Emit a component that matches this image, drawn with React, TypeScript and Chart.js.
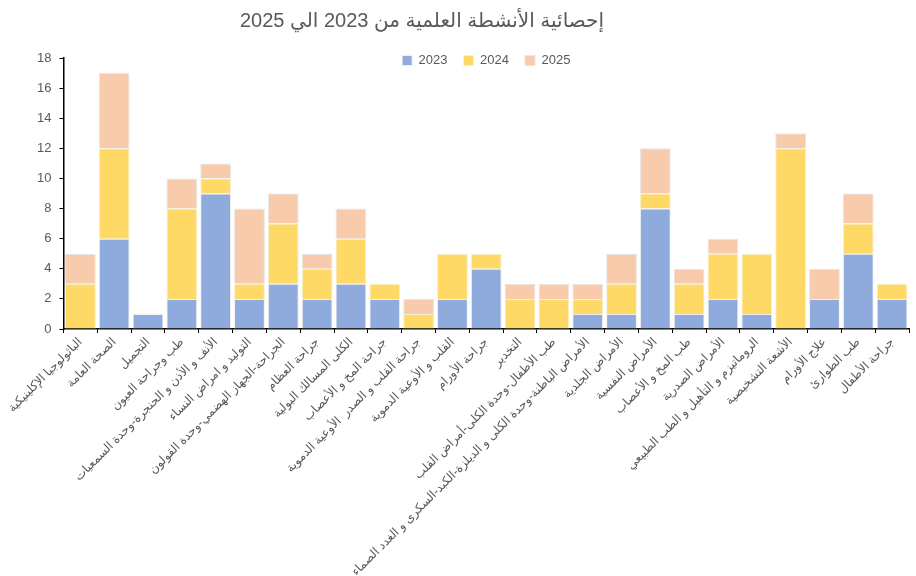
import React, { useEffect, useRef } from "react";
import { Chart, registerables } from "chart.js";

Chart.register(...registerables);

const titleText = "إحصائية الأنشطة العلمية من 2023 الي 2025";

const categories = [
  "الباثولوجيا الإكلينيكية",
  "الصحة العامة",
  "التجميل",
  "طب وجراحة العيون",
  "الأنف و الأذن و الحنجرة-وحدة السمعيات",
  "التوليد و امراض النساء",
  "الجراحة-الجهاز الهضمي-وحدة القولون",
  "جراحة العظام",
  "الكلى المسالك البولية",
  "جراحة المخ و الأعصاب",
  "جراحة القلب و الصدر  الأوعية الدموية",
  "القلب و الأوعية الدموية",
  "جراحة الأورام",
  "التخدير",
  "طب الأطفال-وحدة الكلى-أمراض القلب",
  "الأمراض الباطنة-وحدة الكلى و الديلزة-الكبد-السكرى و الغدد الصماء",
  "الأمراض الجلدية",
  "الأمراض النفسية",
  "طب المخ و الأعصاب",
  "الأمراض الصدرية",
  "الروماتيزم و التأهيل و الطب الطبيعي",
  "الأشعة التشخيصية",
  "علاج الأورام",
  "طب الطوارئ",
  "جراحة الأطفال",
];

const seriesNames = ["2023", "2024", "2025"];
const values2023 = [0, 6, 1, 2, 9, 2, 3, 2, 3, 2, 0, 2, 4, 0, 0, 1, 1, 8, 1, 2, 1, 0, 2, 5, 2];
const values2024 = [3, 6, 0, 6, 1, 1, 4, 2, 3, 1, 1, 3, 1, 2, 2, 1, 2, 1, 2, 3, 4, 12, 0, 2, 1];
const values2025 = [2, 5, 0, 2, 1, 5, 2, 1, 2, 0, 1, 0, 0, 1, 1, 1, 2, 3, 1, 1, 0, 1, 2, 2, 0];

const yMax = 18;
const yStep = 2;

const FONT = "'Liberation Sans', 'DejaVu Sans', sans-serif";
const TEXT = "#595959";

export default function App() {
  const ref = useRef<HTMLCanvasElement | null>(null);

  useEffect(() => {
    if (!ref.current) return;
    const titlePlugin = {
      id: "customTitle",
      afterDraw(chart: any) {
        const ctx = chart.ctx;
        ctx.save();
        ctx.font = `20px ${FONT}`;
        ctx.fillStyle = TEXT;
        ctx.textAlign = "center";
        ctx.textBaseline = "middle";
        ctx.fillText(titleText, 422, 21);
        ctx.restore();
      },
    };
    // move the legend down so it sits inside the top of the plot, as in the original
    const legendShift = {
      id: "legendShift",
      beforeDraw(chart: any) {
        const lg = chart.legend;
        if (!lg) return;
        const target = 38;
        const d = target - lg.top;
        lg.top += d;
        lg.bottom += d;
      },
    };
    const chart = new Chart(ref.current, {
      type: "bar",
      data: {
        labels: categories,
        datasets: [
          { label: seriesNames[0], data: values2023, backgroundColor: "#8FAADC", borderColor: "#f0f0f0", borderWidth: 1 },
          { label: seriesNames[1], data: values2024, backgroundColor: "#FFD966", borderColor: "#f7f0d8", borderWidth: 1 },
          { label: seriesNames[2], data: values2025, backgroundColor: "#F8CBAD", borderColor: "#e6e6e6", borderWidth: 1 },
        ],
      },
      options: {
        animation: false,
        responsive: false,
        maintainAspectRatio: false,
        layout: { padding: { top: 19, left: 29, right: 7, bottom: 0 } },
        datasets: { bar: { categoryPercentage: 1, barPercentage: 0.91 } },
        plugins: {
          title: { display: false },
          tooltip: { enabled: false },
          legend: {
            position: "top",
            align: "center",
            fullSize: false,
            labels: {
              boxWidth: 10,
              boxHeight: 10,
              padding: 16,
              color: TEXT,
              font: { family: FONT, size: 13 },
            },
          },
        },
        scales: {
          x: {
            stacked: true,
            grid: { display: true, drawOnChartArea: false, tickLength: 4, color: "#000", tickColor: "#000" },
            border: { display: true, color: "#000", width: 1.5 },
            ticks: {
              autoSkip: false,
              minRotation: 45,
              maxRotation: 45,
              color: TEXT,
              padding: 2,
              font: { family: FONT, size: 12 },
            },
            afterFit: (scale: any) => {
              scale.height = 247;
            },
          },
          y: {
            stacked: true,
            min: 0,
            max: yMax,
            grid: { display: true, drawOnChartArea: false, tickLength: 4, color: "#000", tickColor: "#000" },
            border: { display: true, color: "#000", width: 1.5 },
            ticks: {
              stepSize: yStep,
              color: TEXT,
              padding: 8,
              font: { family: FONT, size: 13 },
            },
          },
        },
      },
      plugins: [titlePlugin, legendShift],
    } as any);
    return () => chart.destroy();
  }, []);

  return (
    <div style={{ position: "absolute", left: 0, top: 0, width: 916, height: 576, background: "#fff" }}>
      <canvas ref={ref} width={916} height={576} style={{ display: "block", width: 916, height: 576 }} />
    </div>
  );
}
